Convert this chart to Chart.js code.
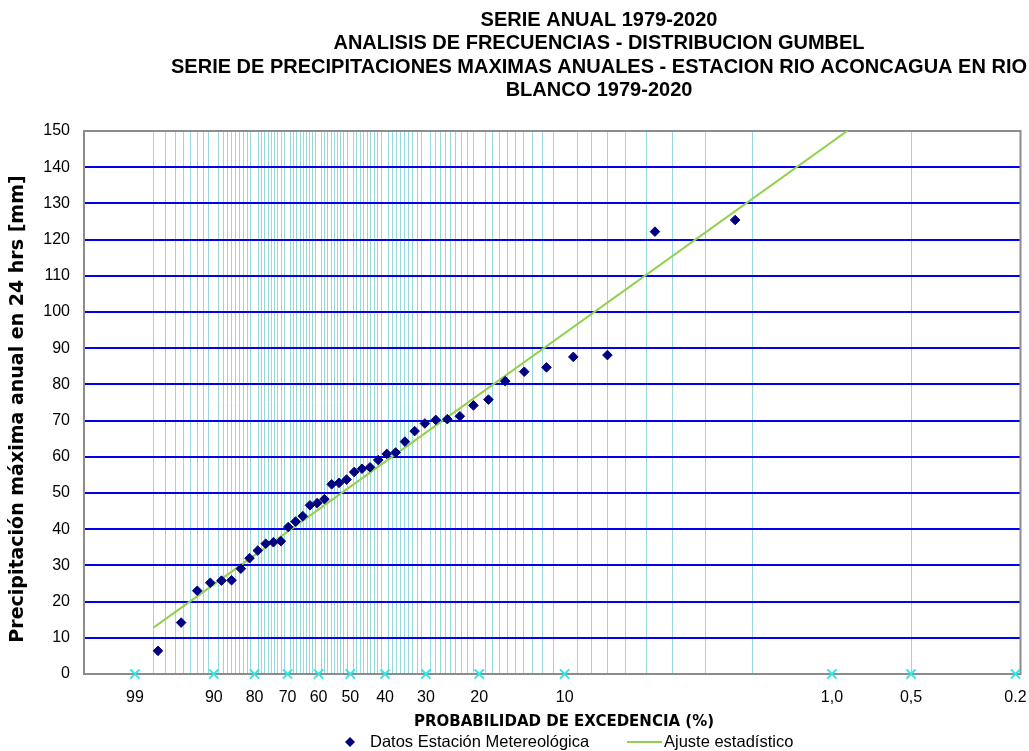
<!DOCTYPE html>
<html>
<head>
<meta charset="utf-8">
<script src="https://cdn.jsdelivr.net/npm/chart.js@4.4.1/dist/chart.umd.min.js"></script>
<style>
  html, body { margin: 0; padding: 0; background: #ffffff; }
  #wrap { width: 1029px; height: 751px; position: relative; }
</style>
</head>
<body>
<div id="wrap"><canvas id="chart" width="1029" height="751"></canvas></div>
<script>
// ---- texts ----
const titleLines = [
  'SERIE ANUAL 1979-2020',
  'ANALISIS DE FRECUENCIAS - DISTRIBUCION GUMBEL',
  'SERIE DE PRECIPITACIONES MAXIMAS ANUALES - ESTACION RIO ACONCAGUA EN RIO',
  'BLANCO 1979-2020'
];
const yAxisTitle = 'Precipitación máxima anual en 24 hrs [mm]';
const xAxisTitle = 'PROBABILIDAD DE EXCEDENCIA (%)';
const seriesNames = ['Datos Estación Metereológica', 'Ajuste estadístico'];

// ---- data ----
// annual maximum 24 h precipitation, sorted ascending (mm)
const precipSorted = [
  6.4, 14.2, 23.0, 25.2, 25.8, 25.9, 29.1, 32.0, 34.1, 36.0,
  36.4, 36.7, 40.6, 42.1, 43.6, 46.6, 47.2, 48.3, 52.4, 52.8,
  53.7, 55.8, 56.7, 57.1, 59.1, 60.8, 61.2, 64.2, 67.1, 69.2,
  70.2, 70.4, 71.2, 74.2, 75.8, 80.9, 83.5, 84.7, 87.6, 88.1,
  122.2, 125.4
];
// fitted Gumbel line: exceedance probability (%) and value (mm)
const fitProb = [98, 0.2];
const fitValue = [12.8, 183.3];

// labelled probabilities on the horizontal axis (%)
const tickProbs = [99, 90, 80, 70, 60, 50, 40, 30, 20, 10, 1, 0.5, 0.2];
const tickLabels = ['99', '90', '80', '70', '60', '50', '40', '30', '20', '10', '1,0', '0,5', '0.2'];
// probability paper rulings (%)
const gridProbs = [];
for (let p = 98; p >= 2; p--) if (p % 10 !== 0) gridProbs.push(p);
gridProbs.push(0.5);

// Gumbel reduced variate for an exceedance probability in %
const gumbel = p => -Math.log(-Math.log(1 - p / 100));

// Weibull plotting position for each ranked value
const n = precipSorted.length;
const obsPoints = precipSorted.map((v, i) => ({ x: gumbel((n - i) / (n + 1) * 100), y: v }));
const fitPoints = fitProb.map((p, i) => ({ x: gumbel(p), y: fitValue[i] }));
const markerPoints = tickProbs.map(p => ({ x: gumbel(p), y: 0 }));

const axisTicks = tickProbs.map((p, i) => ({ value: gumbel(p), label: tickLabels[i], grid: false }))
  .concat(gridProbs.map(p => ({ value: gumbel(p), label: '', grid: true })));

const NAVY = '#000080';
const GREEN = '#92D050';
const CYAN = '#2fe6e6';
const RULING = '#98d8d8';
const BLUE = '#0000ee';

const decorPlugin = {
  id: 'decor',
  beforeDatasetsDraw(chart) {
    const { ctx, chartArea: a } = chart;
    ctx.save();
    ctx.strokeStyle = '#8c8c8c';
    ctx.lineWidth = 2;
    ctx.strokeRect(a.left, a.top, a.right - a.left, a.bottom - a.top);
    ctx.restore();
  },
  afterDraw(chart) {
    const { ctx } = chart;
    ctx.save();
    ctx.fillStyle = '#000';
    ctx.textAlign = 'center';
    ctx.textBaseline = 'middle';
    ctx.font = 'bold 20px "Liberation Sans", Arial, sans-serif';
    const ys = [20, 43.5, 67, 90];
    titleLines.forEach((t, i) => ctx.fillText(t, 599, ys[i]));

    ctx.font = 'bold 15px "DejaVu Sans", Verdana, sans-serif';
    ctx.fillText(xAxisTitle, 564, 722);

    // vertical axis title
    ctx.save();
    ctx.translate(18, 409);
    ctx.rotate(-Math.PI / 2);
    ctx.font = 'bold 19px "DejaVu Sans", Verdana, sans-serif';
    ctx.fillText(yAxisTitle, 0, 0);
    ctx.restore();

    // legend
    const ly = 742;
    ctx.fillStyle = NAVY;
    ctx.beginPath();
    ctx.moveTo(350, ly - 5); ctx.lineTo(355, ly); ctx.lineTo(350, ly + 5); ctx.lineTo(345, ly);
    ctx.closePath(); ctx.fill();
    ctx.strokeStyle = GREEN; ctx.lineWidth = 2;
    ctx.beginPath(); ctx.moveTo(627, ly); ctx.lineTo(662, ly); ctx.stroke();
    ctx.fillStyle = '#000';
    ctx.textAlign = 'left';
    ctx.font = '16.5px "Liberation Sans", Arial, sans-serif';
    ctx.fillText(seriesNames[0], 370, ly);
    ctx.fillText(seriesNames[1], 664, ly);
    ctx.restore();
  }
};

new Chart(document.getElementById('chart'), {
  type: 'scatter',
  data: {
    datasets: [
      {
        label: seriesNames[1], data: fitPoints, showLine: true,
        borderColor: GREEN, borderWidth: 2, pointRadius: 0, order: 2
      },
      {
        label: seriesNames[0], data: obsPoints, pointStyle: 'rectRot',
        pointRadius: 4.8, backgroundColor: NAVY, borderColor: NAVY, borderWidth: 1,
        clip: false, order: 1
      },
      {
        label: 'ejes', data: markerPoints, pointStyle: 'crossRot',
        pointRadius: 6.5, borderColor: CYAN, borderWidth: 2, clip: false, order: 0
      }
    ]
  },
  options: {
    responsive: false,
    animation: false,
    layout: { padding: { top: 131, right: 8, left: 0, bottom: 0 } },
    plugins: { legend: { display: false }, title: { display: false }, tooltip: { enabled: false } },
    scales: {
      x: {
        type: 'linear', min: -1.975, max: 6.258,
        afterBuildTicks: axis => { axis.ticks = axisTicks.map(t => ({ value: t.value })); },
        afterFit: s => { s.height = 77; },
        ticks: {
          autoSkip: false, maxRotation: 0, padding: 14, color: '#000',
          font: { family: '"Liberation Sans", Arial, sans-serif', size: 16 },
          callback: (v, i) => axisTicks[i].label
        },
        grid: {
          z: -1, drawTicks: false, lineWidth: 1,
          color: c => (axisTicks[c.index] && axisTicks[c.index].grid) ? RULING : 'rgba(0,0,0,0)'
        },
        border: { display: false }
      },
      y: {
        type: 'linear', min: 0, max: 150,
        afterFit: s => { s.width = 84; },
        ticks: {
          stepSize: 10, padding: 14, color: '#000',
          font: { family: '"Liberation Sans", Arial, sans-serif', size: 16 }
        },
        grid: {
          drawTicks: false, lineWidth: 2,
          color: c => (c.tick && (c.tick.value === 0 || c.tick.value === 150)) ? 'rgba(0,0,0,0)' : BLUE
        },
        border: { display: false }
      }
    }
  },
  plugins: [decorPlugin]
});
</script>
</body>
</html>
